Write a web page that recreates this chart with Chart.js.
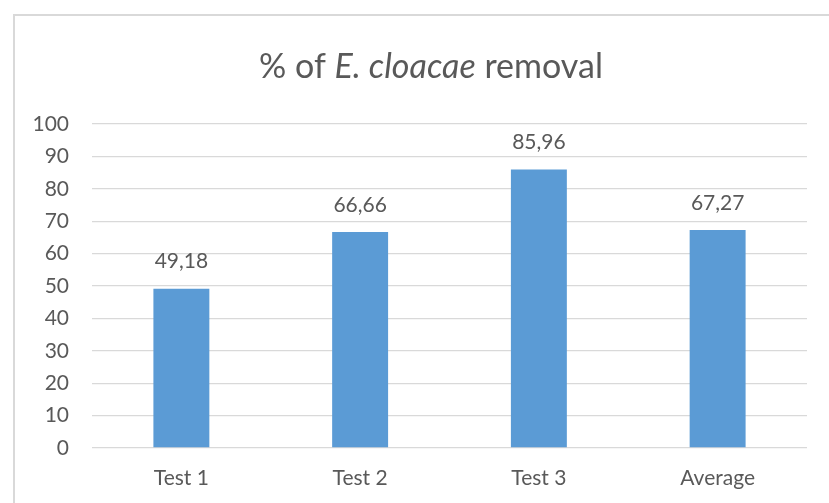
<!DOCTYPE html>
<html>
<head>
<meta charset="utf-8">
<script src="https://cdn.jsdelivr.net/npm/chart.js@4.4.0/dist/chart.umd.min.js"></script>
<style>
  html, body { margin: 0; padding: 0; background: #fff; overflow: hidden; }
  #frame { position: absolute; left: 13px; top: 14px; width: 900px; height: 600px; border: 2px solid #d9d9d9; }
  #wrap { position: absolute; left: 0; top: 0; width: 829px; height: 503px; }
</style>
</head>
<body>
<div id="frame"></div>
<div id="wrap"><canvas id="chart" width="829" height="503"></canvas></div>
<script>
// data
const categories = ['Test 1', 'Test 2', 'Test 3', 'Average'];
const removal = [49.18, 66.66, 85.96, 67.27];
const yTicks = [0, 10, 20, 30, 40, 50, 60, 70, 80, 90, 100];

const textColor = '#595959';
const fontFamily = 'Lato, "Open Sans", sans-serif';

// title with the species name in italics
const titlePlugin = {
  id: 'mixedTitle',
  afterDraw(chart) {
    const ctx = chart.ctx;
    const parts = [
      { text: '% of ', font: '34px ' + fontFamily },
      { text: 'E. cloacae', font: 'italic 34px ' + fontFamily },
      { text: ' removal', font: '34px ' + fontFamily }
    ];
    ctx.save();
    let total = 0;
    parts.forEach(p => { ctx.font = p.font; p.w = ctx.measureText(p.text).width; total += p.w; });
    let x = 431 - total / 2;
    ctx.fillStyle = textColor;
    ctx.textBaseline = 'alphabetic';
    ctx.textAlign = 'left';
    parts.forEach(p => { ctx.font = p.font; ctx.fillText(p.text, x, 78); x += p.w; });
    ctx.restore();
  }
};

// value labels above each bar, comma decimals
const valueLabels = {
  id: 'valueLabels',
  afterDatasetsDraw(chart) {
    const ctx = chart.ctx;
    const meta = chart.getDatasetMeta(0);
    ctx.save();
    ctx.font = '21px ' + fontFamily;
    ctx.fillStyle = textColor;
    ctx.textAlign = 'center';
    ctx.textBaseline = 'middle';
    meta.data.forEach((bar, i) => {
      ctx.fillText(removal[i].toFixed(2).replace('.', ','), bar.x, bar.y - 27);
    });
    ctx.restore();
  }
};

new Chart(document.getElementById('chart').getContext('2d'), {
  type: 'bar',
  data: {
    labels: categories,
    datasets: [{
      data: removal,
      backgroundColor: '#5b9bd5',
      borderWidth: 0,
      categoryPercentage: 1,
      barPercentage: 0.313
    }]
  },
  options: {
    responsive: false,
    animation: false,
    layout: { padding: { left: 0, right: 22, top: 124, bottom: 0 } },
    plugins: {
      legend: { display: false },
      tooltip: { enabled: false },
      title: { display: false }
    },
    scales: {
      x: {
        grid: { display: false },
        border: { display: false },
        ticks: { color: textColor, font: { family: fontFamily, size: 21 }, padding: 10 },
        afterFit: scale => { scale.height = 55; }
      },
      y: {
        min: 0,
        max: 100,
        afterBuildTicks: scale => { scale.ticks = yTicks.map(v => ({ value: v })); },
        grid: { color: '#d9d9d9', lineWidth: 1.3, drawTicks: false },
        border: { display: false },
        ticks: { color: textColor, font: { family: fontFamily, size: 21 }, padding: 23 },
        afterFit: scale => { scale.width = 92; }
      }
    }
  },
  plugins: [titlePlugin, valueLabels]
});
</script>
</body>
</html>
